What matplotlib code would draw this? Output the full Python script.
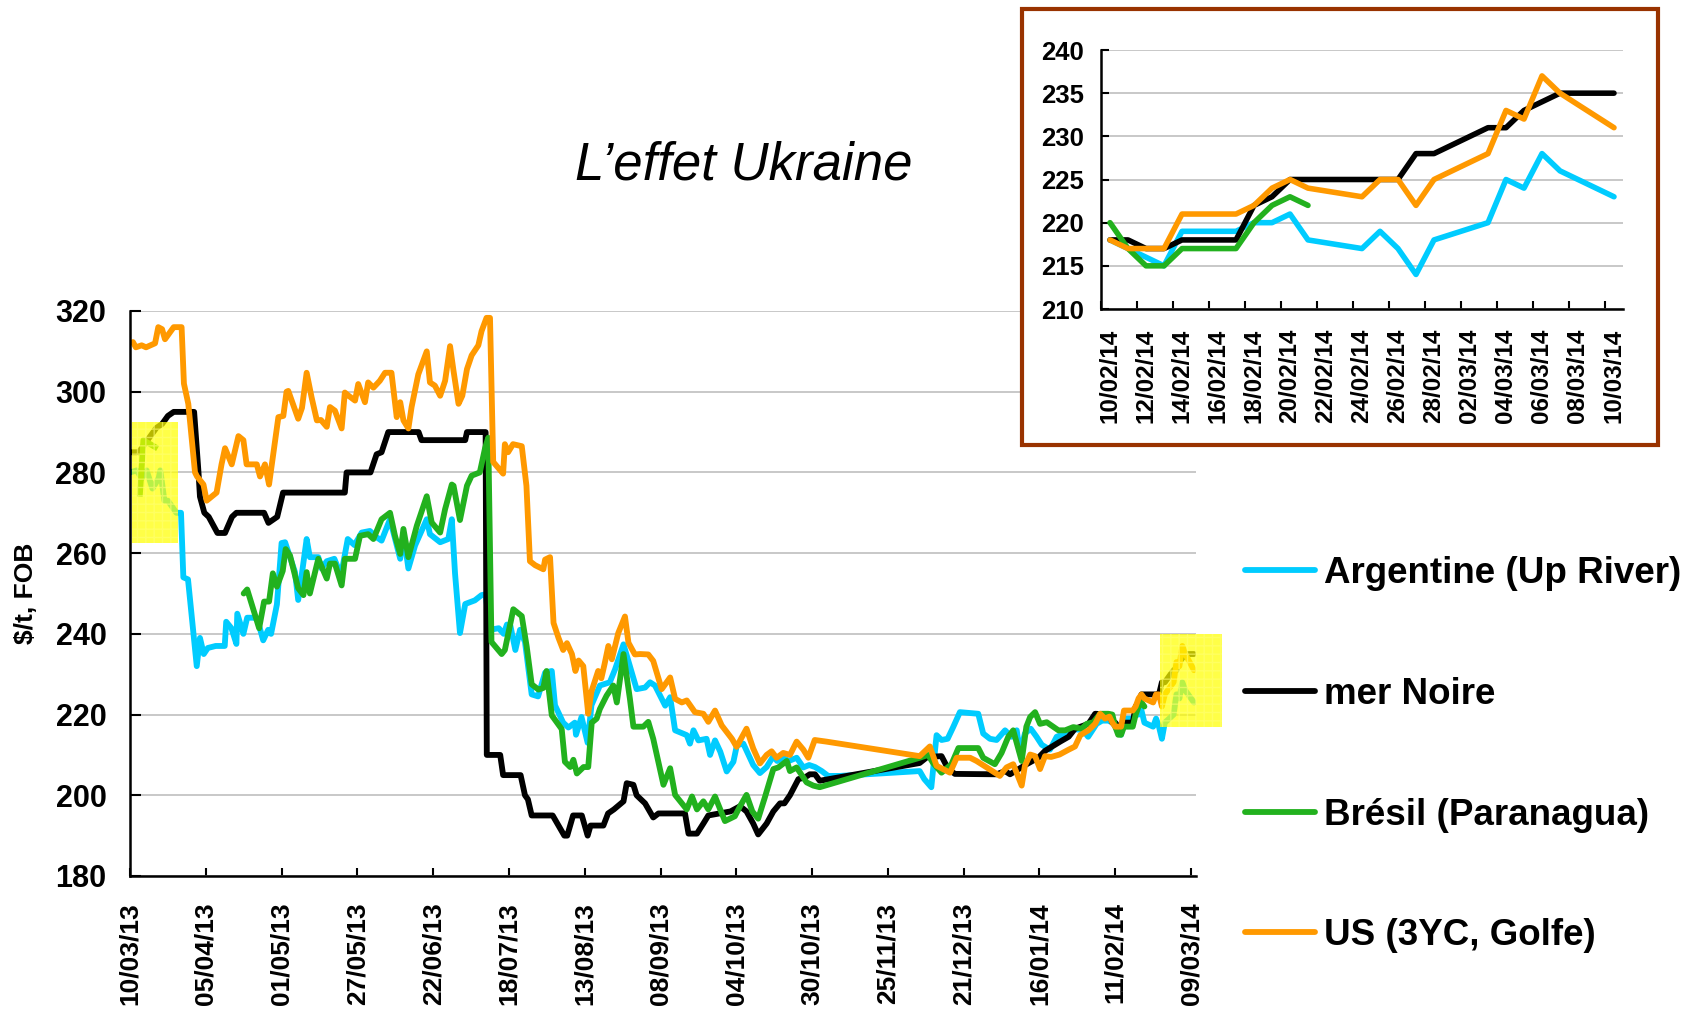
import numpy as np
import pandas as pd
import matplotlib
matplotlib.use("Agg")
import matplotlib.pyplot as plt
from matplotlib.patches import Rectangle

plt.rcParams['font.family'] = ['Liberation Sans', 'DejaVu Sans']

# ---- main chart: days since 10/03/13 ----
start_date = "10/03/13"

arg_days = [0, 2.3, 4, 5.7, 7.7, 9.8, 10.4, 11.8, 13, 15.9, 17.5, 18.3, 19.9, 22.9, 24, 25.3, 26.7, 29.4, 32.5, 33,
            34.8, 36.5, 36.8, 38.9, 40.2, 42.3, 43.6, 45.7, 47.4, 48.4, 50.4, 52, 53.2, 56.6, 57.7, 58.9, 60.6, 61.7,
            64.6, 65.7, 67.5, 70.1, 72.4, 74.7, 77, 79.5, 82.3, 84.5, 86.3, 89.2, 92.7, 93.8, 95.5, 97.8, 101.8,
            102.9, 106.4, 109.2, 110.4, 111.5, 113.2, 115, 118.3, 120.6, 122, 123.5, 126.5, 128.2, 129.3, 130.5,
            132.2, 133.8, 135.5, 137.8, 140, 142.4, 144.7, 145.8, 148.6, 150.4, 152.6, 153, 154.9, 157, 158.3,
            161.2, 164.6, 166.4, 169.3, 171.5, 173.8, 176.7, 178.4, 180.1, 183.6, 185.3, 187, 191, 192.1, 193.3,
            195, 197.8, 199, 200.7, 202.5, 204.7, 207, 208.2, 210.4, 213.8, 216.1, 218.4, 220.7, 222, 224.1, 226,
            228.7, 231, 233, 235, 237.3, 239.5, 243.5, 270.9, 272.5, 274.9, 276.7, 278.4, 280.5, 282.4, 284.7, 291,
            292.7, 295, 297.3, 300.2, 302.4, 304.2, 305.3, 307, 309, 311, 312.8, 315.6, 317.9, 320.8, 323, 327,
            328.7, 331.6, 333.5, 335.6]
arg_vals = [280, 280.5, 278.5, 280.5, 276, 278.5, 280.5, 273, 273, 270, 270, 254, 253.5, 232, 239, 235, 236.5, 237,
            237, 243, 241.4, 237.5, 245, 240, 244, 244, 243.8, 238.4, 241, 240, 247.3, 262.5, 262.7, 255.3, 248.4,
            254.5, 263.5, 259, 259, 256.2, 258, 258.6, 254.5, 263.5, 262, 265.1, 265.5, 264, 263.1, 268.4, 258.6,
            265, 256.2, 261.9, 268.4, 264.7, 262.7, 263.5, 268.4, 255, 240.2, 247.4, 248.3, 249.6, 249.8, 241,
            241.4, 240, 242.3, 242, 236, 241, 238, 225, 224.5, 230.4, 230.8, 222.3, 218, 216.8, 218, 215, 219.4,
            213, 222.3, 227.2, 228, 231.2, 237.4, 232, 226.3, 226.7, 228, 227.2, 222.2, 224.3, 216.1, 214.9, 212.8,
            216.1, 213.6, 214, 210, 213.6, 210.8, 205.9, 208.3, 212.4, 212.8, 207.5, 205.5, 207, 209.7, 208.5,
            209.3, 208.5, 209.3, 206.9, 207.5, 207, 206, 204.8, 204.8, 206, 204, 202, 214.9, 213.7, 214, 216.9,
            220.6, 220.2, 215.3, 214, 213.7, 216.1, 214.5, 216.1, 210.5, 215.3, 216.5, 214.5, 212.5, 211.3, 214.5,
            215.3, 216.5, 216.1, 214.5, 217.7, 218.5, 218.5]

noire_days = [0, 3, 5, 7, 9, 11, 13, 15, 22, 23.5, 24, 25.5, 27, 30, 32.6, 35, 36.5, 46, 47.5, 50.5, 52.5, 73.7,
              74.3, 82.5, 84.6, 86.3, 88.6, 99, 100, 115, 115.6, 122, 122.4, 127, 128, 134, 135.5, 136.5, 137.8, 145,
              149, 150, 152, 155, 157, 158, 162.4, 164, 166, 169.3, 170.4, 172.7, 173.8, 176.7, 179.5, 181.3, 190.4,
              191.6, 194.5, 196.7, 198.4, 206, 209.3, 211.5, 213.8, 215.5, 218.4, 220.7, 223, 224.5, 226.4, 229.3,
              231.5, 233.2, 235, 236.6, 270.9, 273.5, 278.4, 280.7, 283, 297.3, 300.2, 301.9, 307.6, 311.6, 313.9,
              319.1, 322, 324.2, 328.8, 331.1, 336]
noire_vals = [285, 285, 287, 289, 291, 292, 294, 295, 295, 280, 274, 270, 269, 265, 265, 269, 270, 270, 267.5, 269,
              275, 275, 280, 280, 284.5, 285, 290, 290, 288, 288, 290, 290, 210, 210, 205, 205, 200, 199, 195, 195,
              190, 190, 195, 195, 190, 192.5, 192.5, 195.5, 196.5, 198.5, 203, 202.6, 200, 198, 194.5, 195.5, 195.5,
              190.5, 190.5, 193, 195, 196, 197.3, 196, 193, 190.3, 193, 196, 198, 198, 200, 204, 204.4, 205.2,
              205.2, 203.6, 208, 209.5, 209.7, 206.5, 205.3, 205.2, 206, 205.2, 207.7, 209.3, 211, 213.3, 214.5,
              216.5, 217.7, 220.2, 220]

bres_early_days = [3.4, 4.6, 8.6]
bres_early_vals = [274.7, 288, 286.3]
bres_days = [39, 40.2, 44.3, 46, 47.7, 49, 50.4, 52.4, 53.4, 54.9, 57.7, 59.5, 60.6, 61.7, 64.6, 67.5, 68.6, 70.3,
             72.6, 73.7, 77.2, 78.9, 81.7, 83.5, 86.3, 89.2, 90.9, 92.7, 93.8, 95.5, 98.4, 101.8, 103.5, 106.4,
             108.1, 110.4, 111, 113.2, 115.6, 117.2, 120, 121.8, 122.9, 124, 127.5, 128.6, 131.5, 134.4, 136.1,
             137.8, 140.1, 141.8, 142.9, 144.7, 148.1, 149.2, 151, 152.1, 153.3, 155.6, 157.2, 158.4, 160.1, 161.2,
             163.5, 165.8, 167, 169.3, 171.5, 172.7, 176.1, 177.8, 179.5, 183, 185.3, 187, 191, 192.8, 194.5, 196.7,
             198.4, 200.7, 204.1, 207.5, 209.3, 211.5, 213.5, 215.5, 217.8, 220.7, 222.4, 225.3, 226.4, 228.7,
             232.1, 234.4, 236.6, 270.9, 273.8, 275.5, 278.4, 281.8, 284.2, 291, 292.7, 296.7, 299, 301.3, 303,
             305.9, 307.5, 308.8, 310.5, 312.2, 314.5, 318.5, 320.8, 323.6, 326.5, 328.2, 330.5, 332.8, 335.6]
bres_vals = [250, 251, 241.4, 248, 248, 255, 251.7, 255.6, 261, 259.4, 251.3, 249.6, 255.3, 250, 258.6, 253.7,
             257.4, 257.4, 252, 258.6, 258.6, 264.3, 264.7, 263.5, 268.4, 270, 264.3, 259.8, 266, 259, 266.8, 274.1,
             267.6, 265.1, 270.9, 277, 276.7, 268.2, 276.7, 279.2, 280, 286, 288.6, 238, 235, 236, 246.1, 244.4,
             236.8, 227.5, 226.2, 226.6, 230.8, 219.8, 216.4, 208.3, 207, 208.8, 205.4, 207, 207, 218, 219, 221.4,
             224.7, 227.2, 223, 235, 223.9, 217, 217, 218.2, 214, 202.6, 206.7, 200.1, 196.5, 199.7, 196.5, 198.5,
             196.5, 199.7, 193.6, 194.8, 197.3, 200.1, 196, 194.2, 199.5, 206.5, 206.9, 208.5, 206, 206.9, 203.2,
             202.4, 202, 209.3, 210, 208, 205.6, 207.7, 211.7, 211.7, 209.3, 207.7, 210.5, 214.5, 216.1, 208.5, 217,
             219.4, 220.6, 217.7, 218.1, 216.1, 216.1, 216.9, 216.5, 217.7, 218.1, 220.2, 220.2]

us_days = [1, 2, 4, 5.5, 8.6, 9.7, 11, 12, 14, 15, 17.7, 18.5, 19, 20, 22.3, 23, 25.2, 26.3, 28, 29.7, 31.4, 32.6,
           34.9, 37.2, 38.9, 40, 43.5, 44.6, 46.3, 47.7, 50.9, 52.6, 53.7, 54.3, 57.7, 59, 60.6, 62.3, 64.1, 65.5,
           67.5, 68.6, 70.3, 72.6, 73.7, 75, 77.2, 78.3, 80.6, 81.7, 83.5, 85.7, 87.5, 89.7, 91.5, 92.7, 93.8, 95.5,
           96.6, 98.9, 101.8, 102.9, 104.6, 106.4, 108.1, 109.8, 111, 112.7, 114, 115.6, 117.2, 119.5, 120.6, 122.3,
           123.5, 124.6, 128, 128.6, 129.7, 131.4, 134.4, 136, 137.2, 139, 141.8, 142.4, 144.1, 145.3, 147, 148.6,
           149.9, 151.6, 152.8, 153.9, 155.5, 157.2, 158.3, 160.6, 161.7, 162.8, 164.1, 165.3, 167.5, 169.8, 171,
           173.2, 175, 177.8, 179.5, 182.4, 185.3, 187, 189.3, 191, 193.8, 196.7, 198.4, 200.7, 203, 206.5, 208.1,
           211.5, 213.8, 216.1, 218.4, 220.1, 221.8, 224.1, 226.4, 228.7, 231, 232.7, 234.9, 238.9, 270.9, 274.4,
           276.7, 278.9, 281.3, 283.6, 288.2, 290.4, 293.9, 298.4, 300.7, 303, 305.9, 307, 308.8, 310.5, 312.2,
           313.9, 316, 318.9, 322, 324.2, 326, 328.8, 331.1, 332.8, 334.5, 336]
us_vals = [312.3, 311, 311.5, 311, 312, 316, 315.5, 313, 315, 316, 316, 302, 300.3, 297, 280, 279, 277, 273, 274,
           275, 282, 286, 282, 289, 288, 282, 282, 279, 282, 277, 293.7, 294, 300, 300.2, 293.3, 296, 304.7, 298.6,
           292.9, 293, 291.3, 296.2, 295.3, 290.9, 299.8, 299, 297.8, 301.9, 297.4, 302.3, 301, 302.7, 304.7, 304.7,
           293.7, 297.4, 292.9, 290.9, 296.2, 304.3, 310, 302.3, 301.5, 299, 302.7, 311.3, 305.1, 297, 299, 305.6,
           309, 311.5, 315, 318.3, 318.3, 282.6, 279.7, 287, 285, 287, 286.5, 276.7, 258, 257, 256, 258.4, 259,
           242.7, 239, 236, 237.7, 235, 230.8, 233.4, 232, 220.2, 225.7, 230.8, 229, 232.5, 237, 233.7, 240.2,
           244.3, 237.8, 234.9, 235, 234.9, 233.3, 226.3, 229.2, 223.9, 223, 223.5, 220.6, 220.2, 218.2, 221, 217.3,
           214, 212, 216.5, 211.6, 207.9, 210, 210.9, 209.3, 210.5, 210, 213.3, 211.3, 209.3, 213.7, 213.3, 209.7,
           212.1, 207.3, 206.5, 205.6, 209.3, 209.3, 208.5, 206.9, 204.8, 206.9, 207.7, 202.4, 207.3, 210.1, 209.7,
           206.5, 209.7, 209.5, 210.1, 211.3, 212.1, 214.9, 216.1, 217.7, 220.2, 219, 219.5]

main_tick_labels = ['10/03/13', '05/04/13', '01/05/13', '27/05/13', '22/06/13', '18/07/13', '13/08/13', '08/09/13',
                    '04/10/13', '30/10/13', '25/11/13', '21/12/13', '16/01/14', '11/02/14', '09/03/14']

# ---- inset: last month, trading days ----
inset_dates = ['10/02/14', '11/02/14', '12/02/14', '13/02/14', '14/02/14', '17/02/14', '18/02/14', '19/02/14',
               '20/02/14', '21/02/14', '24/02/14', '25/02/14', '26/02/14', '27/02/14', '28/02/14', '03/03/14',
               '04/03/14', '05/03/14', '06/03/14', '07/03/14', '10/03/14']
inset_arg = [218, 217, 216, 215, 219, 219, 220, 220, 221, 218, 217, 219, 217, 214, 218, 220, 225, 224, 228, 226, 223]
inset_noire = [218, 218, 217, 217, 218, 218, 222, 223, 225, 225, 225, 225, 225, 228, 228, 231, 231, 233, 234, 235,
               235]
inset_bres = [220, 217, 215, 215, 217, 217, 220, 222, 223, 222] + [np.nan] * 11
inset_us = [218, 217, 217, 217, 221, 221, 222, 224, 225, 224, 223, 225, 225, 222, 225, 228, 233, 232, 237, 235, 231]
inset_tick_labels = ['10/02/14', '12/02/14', '14/02/14', '16/02/14', '18/02/14', '20/02/14', '22/02/14',
                     '24/02/14', '26/02/14', '28/02/14', '02/03/14', '04/03/14', '06/03/14', '08/03/14', '10/03/14']

names = ['Argentine (Up River)', 'mer Noire', 'Brésil (Paranagua)', 'US (3YC, Golfe)']
colors = ['#00CCFF', '#000000', '#22B11E', '#FF9900']

t0 = pd.to_datetime(start_date, format='%d/%m/%y')
i_dt = pd.to_datetime(inset_dates, format='%d/%m/%y')
i_main_x = np.asarray((i_dt - t0).days, dtype=float)
i_cat_x = np.asarray((i_dt - i_dt[0]).days, dtype=float)

fig = plt.figure(figsize=(16.9, 10.15), dpi=100)
W, H = 1690, 1015
ax = fig.add_axes([130 / W, 1 - 876 / H, 1066 / W, 565 / H])

main_series = [(arg_days, arg_vals, inset_arg), (noire_days, noire_vals, inset_noire),
               (bres_days, bres_vals, inset_bres), (us_days, us_vals, inset_us)]
handles = []
for (d, v, tail), c in zip(main_series, colors):
    x = np.r_[d, i_main_x]
    y = np.r_[v, np.asarray(tail, dtype=float)]
    ok = ~np.isnan(y)
    ln, = ax.plot(x[ok], y[ok], color=c, lw=4.2, solid_joinstyle='round', solid_capstyle='round')
    handles.append(ln)
    if c == colors[2]:
        ax.plot(bres_early_days, bres_early_vals, color=c, lw=4.2, solid_joinstyle='round')

ax.set_xlim(0, 365.7)
ax.set_ylim(180, 320)
tick_x = (pd.to_datetime(main_tick_labels, format='%d/%m/%y') - t0).days
ax.set_xticks(tick_x, main_tick_labels, rotation=90, fontsize=19, fontweight='bold')
ax.set_yticks(range(180, 321, 20), [str(v) for v in range(180, 321, 20)], fontsize=22, fontweight='bold')
ax.tick_params(axis='x', direction='in', length=6, width=1.5, pad=19)
ax.tick_params(axis='y', direction='in', length=8, width=1.5, pad=17)
ax.yaxis.grid(True, color='#BFBFBF', lw=1.2)
ax.set_axisbelow(True)
for s in ['top', 'right']:
    ax.spines[s].set_visible(False)
for s in ['left', 'bottom']:
    ax.spines[s].set_linewidth(1.8)

# yellow highlight boxes
boxes = [((0.8, 262.4), 15.8, 30.2), ((353.3, 216.9), 21.3, 23.1)]
for (bx, by), bw, bh in boxes:
    ax.add_patch(Rectangle((bx, by), bw, bh, facecolor=(1, 1, 0, 0.72), edgecolor=(1, 1, 0.45, 0.6),
                           hatch='++', lw=0, zorder=4, clip_on=False))

fig.text(744 / W, 1 - 165 / H, 'L\u2019effet Ukraine', ha='center', va='center', fontsize=38, style='italic')
fig.text(26 / W, 1 - 593 / H, r'\$/t, FOB', rotation=90, ha='center', va='center', fontsize=19,
         fontweight='bold')

fig.legend(handles, names, loc='upper left', bbox_to_anchor=(1245 / W, 1 - 556 / H), frameon=False,
           borderpad=0, borderaxespad=0, handlelength=1.9, handletextpad=0.25, labelspacing=2.33,
           prop=dict(size=26.5, weight='bold'))

# inset
fig.add_artist(Rectangle((1022 / W, 1 - 445 / H), 636 / W, 436 / H, transform=fig.transFigure,
                         facecolor='white', edgecolor='#993300', lw=3, zorder=5))
axi = fig.add_axes([1101 / W, 1 - 309 / H, 522 / W, 259 / H], zorder=6)
for tail, c in zip([inset_arg, inset_noire, inset_bres, inset_us], colors):
    y = np.asarray(tail, dtype=float)
    ok = ~np.isnan(y)
    axi.plot(i_cat_x[ok], y[ok], color=c, lw=4.0, solid_joinstyle='round', solid_capstyle='round')
axi.set_xlim(-0.5, 28.5)
axi.set_ylim(210, 240)
ix = (pd.to_datetime(inset_tick_labels, format='%d/%m/%y') - i_dt[0]).days
axi.set_xticks(ix, inset_tick_labels, rotation=90, fontsize=17.5, fontweight='bold')
axi.set_xticks(np.arange(-0.5, 28, 2), minor=True)
axi.set_yticks(range(210, 241, 5), [str(v) for v in range(210, 241, 5)], fontsize=18.5, fontweight='bold')
axi.tick_params(axis='x', which='major', length=0, pad=14)
axi.tick_params(axis='x', which='minor', direction='in', length=6, width=1.5)
axi.tick_params(axis='y', direction='in', length=6, width=1.5, pad=12)
axi.yaxis.grid(True, color='#BFBFBF', lw=1.2)
axi.set_axisbelow(True)
for s in ['top', 'right']:
    axi.spines[s].set_visible(False)
for s in ['left', 'bottom']:
    axi.spines[s].set_linewidth(1.8)

fig.savefig('out.png', dpi=100)
